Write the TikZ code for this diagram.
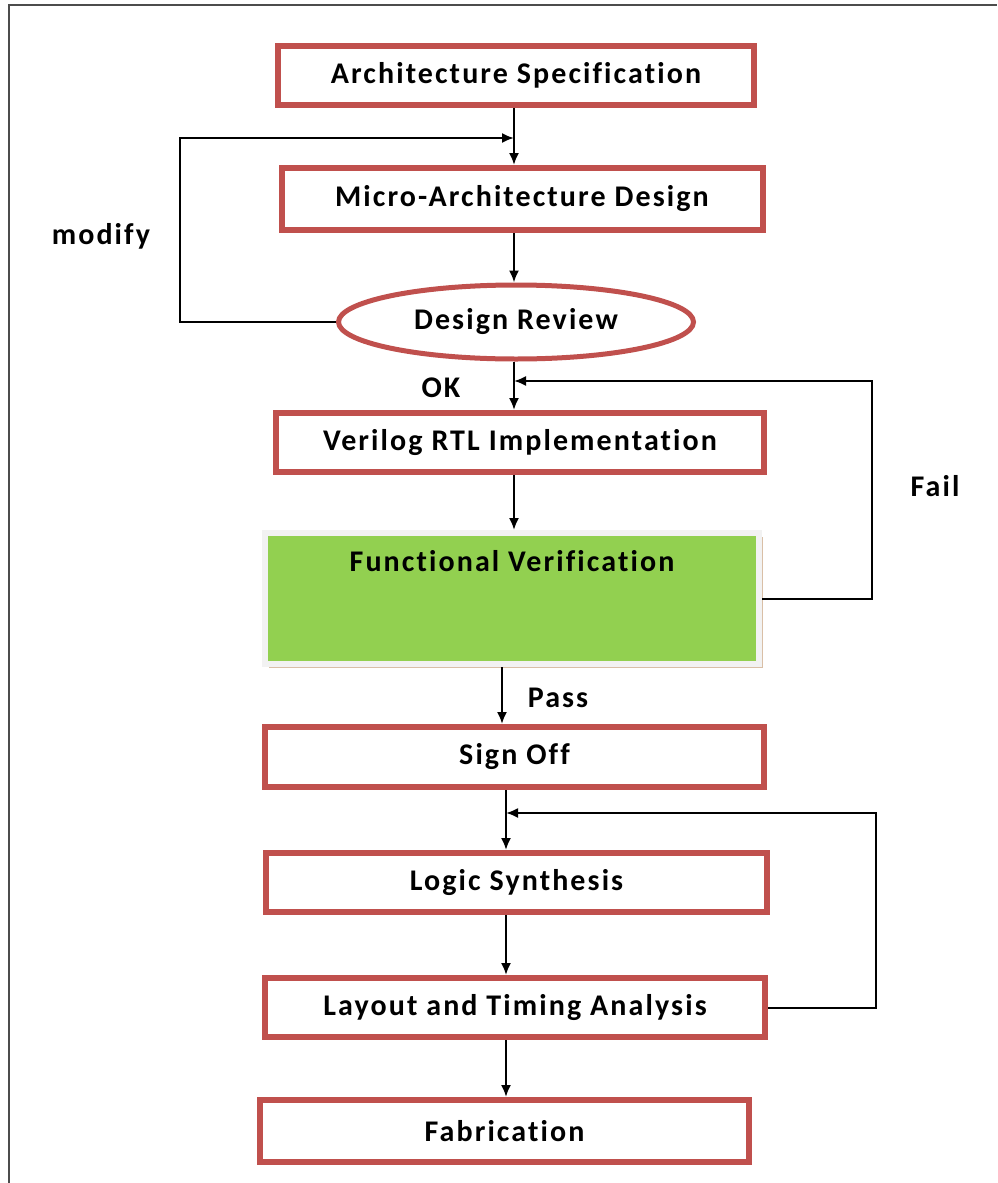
\documentclass[tikz,border=0pt]{standalone}
\usepackage{fontspec}
\setmainfont{Carlito}[LetterSpace=7, Ligatures=NoCommon]
\usetikzlibrary{arrows.meta,shapes.geometric,shadows}
\definecolor{boxred}{HTML}{C0504D}
\definecolor{verigreen}{HTML}{92D050}
\definecolor{shadowtan}{HTML}{D9BFA6}
\definecolor{framegray}{HTML}{F2F2F2}
\begin{document}
\begin{tikzpicture}[x=0.5pt, y=-0.5pt,
      every node/.style={font=\fontsize{15}{17}\selectfont\bfseries},
      stage/.style={rectangle, draw=boxred, fill=white, line width=3pt, inner sep=0pt, align=center},
      decision/.style={ellipse, draw=boxred, fill=white, line width=2.5pt, inner sep=0pt, minimum width=177.5pt, minimum height=37pt},
      verif/.style={rectangle, draw=framegray, fill=verigreen, line width=3pt, inner sep=0pt,
        minimum width=247pt, minimum height=65.5pt, text height=10pt, text depth=37.5pt,
        drop shadow={shadow xshift=2pt, shadow yshift=-2pt, fill=shadowtan, opacity=1}},
      flow/.style={line width=1pt, -{Latex[length=6pt, width=5pt]}},
      page/.style={line width=1pt, draw=black!70}
  ]
    \useasboundingbox (0,0) rectangle (997,1183);
    \draw[page] (9,1183) |- (997,5);

    \node[stage, minimum width=238pt, minimum height=29.5pt] (arch) at (516,75.5) {Architecture Specification};
    \node[stage, minimum width=240.5pt, minimum height=31pt] (micro) at (522,199) {Micro-Architecture Design};
    \node[decision] (review) at (516,322) {Design Review};
    \node[stage, minimum width=244pt, minimum height=29.5pt] (rtl) at (520,442.5) {Verilog RTL Implementation};
    \node[verif] (fv) at (512,598.5) {Functional Verification};
    \node[stage, minimum width=249.5pt, minimum height=30pt] (signoff) at (514.5,757) {Sign Off};
    \node[stage, minimum width=250.5pt, minimum height=29.5pt] (synth) at (516.5,882.5) {Logic Synthesis};
    \node[stage, minimum width=250pt, minimum height=29.5pt] (layout) at (515,1007.5) {Layout and Timing Analysis};
    \node[stage, minimum width=244.5pt, minimum height=31pt] (fab) at (504.5,1131) {Fabrication};

    \node (modify) at (101,236) {modify};
    \node (ok) at (441,388) {OK};
    \node (fail) at (935,486) {Fail};
    \node (pass) at (558,698) {Pass};

    \coordinate (spineA) at (514,0);
    \coordinate (spineB) at (502,0);
    \coordinate (spineC) at (506,0);
    \coordinate (mcorner) at (180,138);
    \coordinate (mjoin) at (spineA |- mcorner);
    \coordinate (fcorner) at (872,381);
    \coordinate (fjoin) at (spineA |- fcorner);
    \coordinate (tcorner) at (876,813);
    \coordinate (tjoin) at (spineC |- tcorner);

    \draw[flow] (arch.south -| spineA) -- (micro.north -| spineA);
    \draw[flow] (micro.south -| spineA) -- (review.north -| spineA);
    \draw[flow] (review.south -| spineA) -- (rtl.north -| spineA);
    \draw[flow] (rtl.south -| spineA) -- (fv.north -| spineA);
    \draw[flow] (fv.south -| spineB) -- (signoff.north -| spineB);
    \draw[flow] (signoff.south -| spineC) -- (synth.north -| spineC);
    \draw[flow] (synth.south -| spineC) -- (layout.north -| spineC);
    \draw[flow] (layout.south -| spineC) -- (fab.north -| spineC);

    % feedback loops
    \draw[flow] (review.west) -| (mcorner) -- (mjoin);
    \draw[flow] (fv.east) -| (fcorner) -- (fjoin);
    \draw[flow] (layout.east) -| (tcorner) -- (tjoin);
  \end{tikzpicture}
\end{document}
